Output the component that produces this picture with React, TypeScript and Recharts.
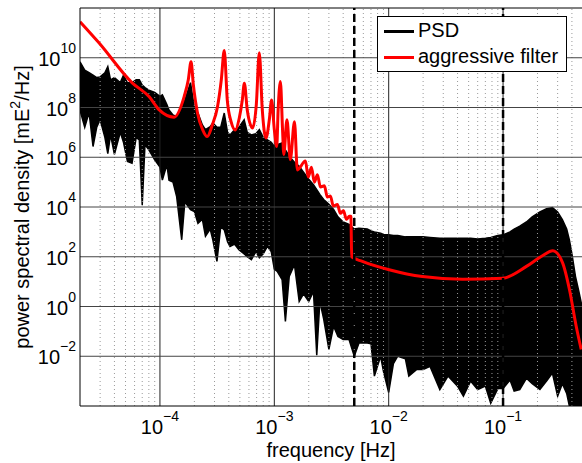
import { ComposedChart, Area, Line, XAxis, YAxis, ReferenceLine, Legend } from "recharts";

const FONT = "'Liberation Sans', Arial, Helvetica, sans-serif";

// PSD envelope (black trace)
const psdFreq = [
  2.0e-5, 2.2e-5, 2.4e-5, 2.6e-5, 2.8e-5, 3.0e-5, 3.3e-5, 3.5e-5, 3.7e-5, 4.0e-5,
  4.5e-5, 4.8e-5, 5.2e-5, 5.7e-5, 6.2e-5, 6.6e-5, 7.0e-5, 7.4e-5, 8.0e-5, 9.0e-5,
  1.0e-4, 1.05e-4, 1.15e-4, 1.2e-4, 1.3e-4, 1.4e-4, 1.55e-4, 1.65e-4, 1.85e-4, 2.0e-4,
  2.15e-4, 2.35e-4, 2.5e-4, 2.75e-4, 2.9e-4, 3.15e-4, 3.4e-4, 3.65e-4, 3.9e-4, 4.1e-4,
  4.5e-4, 4.9e-4, 5.45e-4, 5.8e-4, 6.3e-4, 6.9e-4, 7.4e-4, 8.0e-4, 8.7e-4, 9.4e-4,
  1.0e-3, 1.06e-3, 1.17e-3, 1.25e-3, 1.35e-3, 1.5e-3, 1.65e-3, 1.8e-3, 2.0e-3, 2.2e-3,
  2.35e-3, 2.5e-3, 2.7e-3, 3.0e-3, 3.3e-3, 3.6e-3, 4.0e-3, 4.5e-3, 5.0e-3, 5.5e-3,
  6.5e-3, 7.0e-3, 7.5e-3, 8.5e-3, 9.0e-3, 1.0e-2, 1.1e-2, 1.2e-2, 1.4e-2, 1.5e-2,
  1.75e-2, 2.0e-2, 2.3e-2, 2.8e-2, 3.3e-2, 4.0e-2, 4.5e-2, 5.2e-2, 6.0e-2, 7.0e-2,
  7.8e-2, 9.0e-2, 0.1, 0.115, 0.125, 0.14, 0.16, 0.18, 0.21, 0.24,
  0.27, 0.3, 0.33, 0.36, 0.38, 0.4, 0.43, 0.46, 0.49,
];
const psdHigh = [
  6.9e9, 3.2e9, 2.5e9, 2.0e9, 1.6e9, 1.7e9, 2.5e9, 4.4e9, 1.3e9, 1.6e9,
  1.0e9, 2.0e9, 9.8e8, 1.0e9, 1.3e9, 1.3e9, 7.9e8, 6.3e8, 5.0e8, 4.0e8,
  2.8e8, 3.2e8, 1.3e8, 7.9e7, 5.0e7, 4.3e7, 1.0e8, 2.0e8, 1.0e9, 1.0e8,
  6.0e7, 2.0e7, 1.3e7, 1.7e7, 2.4e7, 1.6e7, 1.6e7, 6.0e7, 1.0e7, 7.9e6,
  1.3e7, 1.6e7, 3.2e7, 1.0e7, 7.9e6, 8.9e6, 1.3e7, 6.3e6, 5.0e6, 4.0e6,
  2.7e6, 3.2e6, 3.8e6, 2.0e6, 1.1e6, 6.3e5, 4.3e5, 2.5e5, 1.3e5, 7.9e4,
  5.0e4, 3.2e4, 2.0e4, 1.3e4, 7.9e3, 4.0e3, 2.5e3, 2.0e3, 1.3e3, 1.4e3,
  1.3e3, 1.1e3, 1.0e3, 890, 790, 760, 710, 710, 630, 630,
  630, 630, 600, 560, 560, 550, 550, 550, 520, 560,
  600, 710, 760, 1.0e3, 1.3e3, 1.7e3, 2.5e3, 4.0e3, 6.3e3, 8.5e3,
  9.5e3, 6.3e3, 3.1e3, 1.3e3, 480, 130, 16, 4.0, 1.0,
];
const psdLow = [
  7.9e7, 1.6e7, 6.3e7, 2.7e6, 1.6e7, 3.2e7, 6.3e6, 1.4e6, 7.9e6, 1.3e6,
  1.0e7, 4.0e6, 6.8e5, 5.8e5, 6.3e6, 5.0e6, 1.2e4, 3.2e6, 2.0e6, 7.9e5,
  4.0e5, 1.2e5, 5.0e5, 1.2e5, 1.0e5, 2.6e4, 480, 1.6e4, 7.9e3, 6.6e3,
  2.2e3, 3.2e3, 660, 1.3e3, 480, 65, 1.6e3, 1.2e3, 400, 260,
  320, 190, 130, 100, 76, 160, 91, 130, 260, 160,
  32, 26, 12, 0.25, 16, 48, 1.6, 3.2, 1.6, 4.0,
  0.011, 1.6, 0.32, 0.019, 0.16, 0.063, 0.047, 0.047, 0.01, 0.034,
  0.034, 0.032, 1.6e-3, 0.01, 2.5e-3, 3.5e-4, 5.0e-3, 0.01, 7.9e-3, 1.6e-3,
  2.9e-3, 2.9e-3, 3.9e-3, 4.6e-4, 1.6e-3, 6.3e-4, 2.5e-4, 1.0e-3, 4.6e-4, 6.3e-4,
  1.3e-4, 5.0e-4, 5.0e-4, 1.1e-3, 4.0e-4, 4.6e-4, 1.3e-3, 7.9e-4, 4.6e-4, 1.0e-3,
  2.1e-3, 2.5e-4, 7.9e-4, 3.2e-4, 1e-4, 1e-4, 1e-4, 1e-4, 1e-4,
];

// aggressive filter (red trace)
const filterFreq = [
  2.0e-5, 2.94e-5, 5.72e-5, 8.06e-5, 9.86e-5, 1.33e-4, 1.63e-4, 1.77e-4, 1.87e-4, 1.96e-4,
  2.13e-4, 2.36e-4, 2.59e-4, 2.87e-4, 3.19e-4, 3.44e-4, 3.65e-4, 3.88e-4, 4.2e-4, 4.56e-4,
  4.94e-4, 5.25e-4, 5.47e-4, 5.8e-4, 6.46e-4, 6.96e-4, 7.39e-4, 7.85e-4, 8.46e-4, 9.04e-4,
  9.47e-4, 1.0e-3, 1.05e-3, 1.08e-3, 1.13e-3, 1.18e-3, 1.21e-3, 1.29e-3, 1.38e-3, 1.5e-3,
  1.59e-3, 1.87e-3, 1.98e-3, 2.11e-3, 2.24e-3, 2.38e-3, 2.53e-3, 2.74e-3, 2.91e-3, 3.09e-3,
  3.28e-3, 3.56e-3, 3.78e-3, 4.02e-3, 4.27e-3, 4.53e-3, 4.67e-3, 4.75e-3, 5.89e-3, 1.01e-2,
  1.97e-2, 4.42e-2, 0.099, 0.16, 0.221, 0.272, 0.331, 0.381, 0.436, 0.482,
];
const filterPsd = [
  2.8e11, 3.9e10, 9.8e8, 2.7e8, 8.0e7, 4.1e7, 2.8e8, 1.3e9, 6.9e9, 8.0e8,
  6.0e7, 1.3e7, 6.8e6, 2.0e7, 1.1e8, 1.3e9, 1.95e10, 2.0e8, 2.6e7, 1.26e7,
  3.8e7, 2.0e8, 9.5e8, 8.0e7, 1.5e7, 1.3e8, 1.6e10, 8.0e7, 5.9e6, 3.2e7,
  2.0e8, 1.3e7, 2.7e6, 8.0e7, 1.1e9, 1.3e7, 1.3e6, 3.2e7, 8.0e5, 2.7e7,
  3.1e5, 7.0e5, 1.6e5, 4.0e5, 1.0e5, 2.0e5, 6.3e4, 7.1e4, 2.5e4, 2.8e4,
  1.1e4, 1.26e4, 5.6e3, 7.1e3, 3.2e3, 4.2e3, 4.2e3, 100, 65, 30,
  16, 12.6, 13.8, 41, 110, 174, 58, 4.7, 0.16, 0.019,
];

const xTicks = [1e-4, 1e-3, 1e-2, 1e-1];
const yTicks = [1e-2, 1, 1e2, 1e4, 1e6, 1e8, 1e10];
const xMinor = [
  3e-5, 4e-5, 5e-5, 6e-5, 7e-5, 8e-5, 9e-5,
  2e-4, 3e-4, 4e-4, 5e-4, 6e-4, 7e-4, 8e-4, 9e-4,
  2e-3, 3e-3, 4e-3, 5e-3, 6e-3, 7e-3, 8e-3, 9e-3,
  2e-2, 3e-2, 4e-2, 5e-2, 6e-2, 7e-2, 8e-2, 9e-2,
  0.2, 0.3, 0.4,
];
const cutoffs = [5e-3, 0.1];

const psdData = psdFreq.map((f, i) => ({ f, range: [psdLow[i], psdHigh[i]] }));
const filterData = filterFreq.map((f, i) => ({ f, v: filterPsd[i] }));

const fmtExp = (v: number) => {
  const e = Math.round(Math.log10(v));
  return e < 0 ? "\u2212" + -e : String(e);
};

const XTick = (props: any) => {
  const { x, y, payload } = props;
  return (
    <text x={x} y={y + 28} textAnchor="middle" fill="#000" fontFamily={FONT}>
      <tspan fontSize={20}>10</tspan>
      <tspan fontSize={14} dy={-13}>{fmtExp(payload.value)}</tspan>
    </text>
  );
};

const YTick = (props: any) => {
  const { x, y, payload } = props;
  return (
    <text x={x} y={y + 8} textAnchor="end" fill="#000" fontFamily={FONT}>
      <tspan fontSize={20}>10</tspan>
      <tspan fontSize={14} dy={-13}>{fmtExp(payload.value)}</tspan>
    </text>
  );
};

const YLabel = (props: any) => {
  const vb = props.viewBox;
  const cx = vb.x + 29;
  const cy = vb.y + vb.height / 2;
  return (
    <text
      x={cx}
      y={cy}
      transform={`rotate(-90 ${cx} ${cy})`}
      textAnchor="middle"
      fill="#000"
      fontFamily={FONT}
      fontSize={20}
    >
      power spectral density [mE
      <tspan fontSize={14} dy={-9}>2</tspan>
      <tspan dy={9}>/Hz]</tspan>
    </text>
  );
};

const XLabel = (props: any) => {
  const vb = props.viewBox;
  return (
    <text x={vb.x + vb.width / 2} y={vb.y + 51} textAnchor="middle" fill="#000" fontFamily={FONT} fontSize={20}>
      frequency [Hz]
    </text>
  );
};

const LegendBox = (props: any) => {
  const items = props.payload || [];
  return (
    <div
      style={{
        width: 190,
        height: 56,
        boxSizing: "border-box",
        border: "1px solid #000",
        background: "#fff",
        position: "relative",
        fontFamily: FONT,
      }}
    >
      {items.map((it: any, i: number) => (
        <div key={i}>
          <div
            style={{
              position: "absolute",
              left: 6,
              top: 13 + i * 25.6,
              width: 30,
              height: 3,
              background: it.color,
            }}
          />
          <span
            style={{
              position: "absolute",
              left: 40,
              top: 3 + i * 26,
              fontSize: 20,
              lineHeight: "20px",
              color: "#000",
              whiteSpace: "nowrap",
            }}
          >
            {it.value}
          </span>
        </div>
      ))}
    </div>
  );
};

export default function App() {
  return (
    <div style={{ position: "absolute", left: 0, top: 0, background: "#fff" }}>
      <ComposedChart width={582} height={463} margin={{ top: 8, right: 0, bottom: 0, left: 0 }}>
        <XAxis
          dataKey="f"
          type="number"
          scale="log"
          domain={[2e-5, 0.49]}
          allowDataOverflow
          ticks={xTicks}
          interval={0}
          tick={<XTick />}
          tickLine={false}
          tickSize={0}
          tickMargin={0}
          height={57}
          axisLine={{ stroke: "#000" }}
          label={<XLabel />}
        />
        <YAxis
          type="number"
          scale="log"
          domain={[1e-4, 1e12]}
          allowDataOverflow
          ticks={yTicks}
          interval={0}
          tick={<YTick />}
          tickLine={false}
          tickSize={0}
          tickMargin={4}
          width={80}
          axisLine={{ stroke: "#000" }}
          label={<YLabel />}
        />
        {xMinor.map((v) => (
          <ReferenceLine key={"m" + v} x={v} stroke="#9a9a9a" strokeDasharray="1 3" />
        ))}
        {xTicks.map((v) => (
          <ReferenceLine key={"x" + v} x={v} stroke="#222" />
        ))}
        {yTicks.map((v) => (
          <ReferenceLine key={"y" + v} y={v} stroke="#444" />
        ))}
        <ReferenceLine y={1e12} stroke="#000" />
        <Area
          data={psdData}
          dataKey="range"
          name="PSD"
          type="linear"
          stroke="#000"
          strokeWidth={1.5}
          fill="#000"
          fillOpacity={1}
          isAnimationActive={false}
        />
        <Line
          data={filterData}
          dataKey="v"
          name="aggressive filter"
          type="monotone"
          stroke="#ff0000"
          strokeWidth={3}
          dot={false}
          isAnimationActive={false}
        />
        {cutoffs.map((v) => (
          <ReferenceLine key={"c" + v} x={v} stroke="#000" strokeWidth={2.5} strokeDasharray="8 4" />
        ))}
        <Legend
          layout="horizontal"
          verticalAlign="middle"
          align="center"
          content={<LegendBox />}
          wrapperStyle={{ left: 377, top: 16, width: 190, height: 56 }}
        />
      </ComposedChart>
    </div>
  );
}
